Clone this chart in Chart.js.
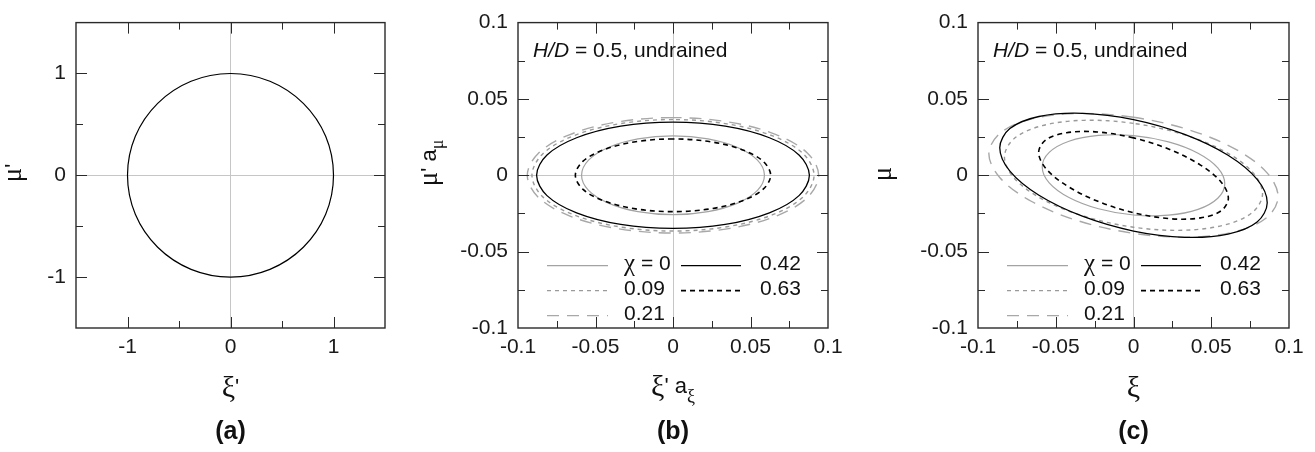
<!doctype html>
<html>

<head>
    <title>Ellipses</title>
    <script src="https://cdn.jsdelivr.net/npm/chart.js"></script>
    <style>
        body { margin: 0; background: #fff; }
        .panel { position: absolute; top: 0; }
    </style>
</head>

<body>
    <canvas id="chartA" class="panel" style="left:0" width="420" height="452"></canvas>
    <canvas id="chartB" class="panel" style="left:420px" width="440" height="452"></canvas>
    <canvas id="chartC" class="panel" style="left:860px" width="455" height="452"></canvas>

    <script>
        // (a) normalised yield surface: unit circle
        const aXi = [0, -0.383, -0.707, -0.924, -1, -0.924, -0.707, -0.383, 0, 0.383, 0.707, 0.924, 1, 0.924, 0.707, 0.383, 0];
        const aMu = [1, 0.924, 0.707, 0.383, 0, -0.383, -0.707, -0.924, -1, -0.924, -0.707, -0.383, 0, 0.383, 0.707, 0.924, 1];

        // legend values of chi
        const chiLabels = ['0', '0.09', '0.21', '0.42', '0.63'];

        // (b) scaled surfaces xi'·a_xi vs mu'·a_mu
        const bXi0 = [0, -0.0226, -0.0417, -0.0545, -0.059, -0.0545, -0.0417, -0.0226, 0, 0.0226, 0.0417, 0.0545, 0.059, 0.0545, 0.0417, 0.0226, 0];
        const bMu0 = [0.0258, 0.0238, 0.0182, 0.0099, 0, -0.0099, -0.0182, -0.0238, -0.0258, -0.0238, -0.0182, -0.0099, 0, 0.0099, 0.0182, 0.0238, 0.0258];
        const bXi09 = [0, -0.0348, -0.0643, -0.0841, -0.091, -0.0841, -0.0643, -0.0348, 0, 0.0348, 0.0643, 0.0841, 0.091, 0.0841, 0.0643, 0.0348, 0];
        const bMu09 = [0.0365, 0.0337, 0.0258, 0.0140, 0, -0.0140, -0.0258, -0.0337, -0.0365, -0.0337, -0.0258, -0.0140, 0, 0.0140, 0.0258, 0.0337, 0.0365];
        const bXi21 = [0, -0.0360, -0.0665, -0.0868, -0.094, -0.0868, -0.0665, -0.0360, 0, 0.0360, 0.0665, 0.0868, 0.094, 0.0868, 0.0665, 0.0360, 0];
        const bMu21 = [0.0378, 0.0349, 0.0267, 0.0145, 0, -0.0145, -0.0267, -0.0349, -0.0378, -0.0349, -0.0267, -0.0145, 0, 0.0145, 0.0267, 0.0349, 0.0378];
        const bXi42 = [0, -0.0337, -0.0622, -0.0813, -0.088, -0.0813, -0.0622, -0.0337, 0, 0.0337, 0.0622, 0.0813, 0.088, 0.0813, 0.0622, 0.0337, 0];
        const bMu42 = [0.0348, 0.0322, 0.0246, 0.0133, 0, -0.0133, -0.0246, -0.0322, -0.0348, -0.0322, -0.0246, -0.0133, 0, 0.0133, 0.0246, 0.0322, 0.0348];
        const bXi63 = [0, -0.0241, -0.0445, -0.0582, -0.063, -0.0582, -0.0445, -0.0241, 0, 0.0241, 0.0445, 0.0582, 0.063, 0.0582, 0.0445, 0.0241, 0];
        const bMu63 = [0.0238, 0.0220, 0.0168, 0.0091, 0, -0.0091, -0.0168, -0.0220, -0.0238, -0.0220, -0.0168, -0.0091, 0, 0.0091, 0.0168, 0.0220, 0.0238];

        // (c) surfaces in xi, mu (tilted)
        const cXi0 = [0, -0.0225, -0.0415, -0.0542, -0.0587, -0.0542, -0.0415, -0.0225, 0, 0.0225, 0.0415, 0.0542, 0.0587, 0.0542, 0.0415, 0.0225, 0];
        const cMu0 = [0.026, 0.0261, 0.0223, 0.0150, 0.0055, -0.0049, -0.0145, -0.0219, -0.026, -0.0261, -0.0223, -0.0150, -0.0055, 0.0049, 0.0145, 0.0219, 0.026];
        const cXi09 = [0, -0.0318, -0.0587, -0.0767, -0.083, -0.0767, -0.0587, -0.0318, 0, 0.0318, 0.0587, 0.0767, 0.083, 0.0767, 0.0587, 0.0318, 0];
        const cMu09 = [0.034, 0.0360, 0.0325, 0.0241, 0.012, -0.0019, -0.0156, -0.0268, -0.034, -0.0360, -0.0325, -0.0241, -0.012, 0.0019, 0.0156, 0.0268, 0.034];
        const cXi21 = [0, -0.0356, -0.0658, -0.0859, -0.093, -0.0859, -0.0658, -0.0356, 0, 0.0356, 0.0658, 0.0859, 0.093, 0.0859, 0.0658, 0.0356, 0];
        const cMu21 = [0.038, 0.0405, 0.0368, 0.0275, 0.014, -0.0016, -0.0170, -0.0298, -0.038, -0.0405, -0.0368, -0.0275, -0.014, 0.0016, 0.0170, 0.0298, 0.038];
        const cXi42 = [0, -0.0329, -0.0608, -0.0795, -0.086, -0.0795, -0.0608, -0.0329, 0, 0.0329, 0.0608, 0.0795, 0.086, 0.0795, 0.0608, 0.0329, 0];
        const cMu42 = [0.0365, 0.0406, 0.0385, 0.0306, 0.018, 0.0027, -0.0131, -0.0268, -0.0365, -0.0406, -0.0385, -0.0306, -0.018, -0.0027, 0.0131, 0.0268, 0.0365];
        const cXi63 = [0, -0.0233, -0.0431, -0.0564, -0.061, -0.0564, -0.0431, -0.0233, 0, 0.0233, 0.0431, 0.0564, 0.061, 0.0564, 0.0431, 0.0233, 0];
        const cMu63 = [0.0245, 0.0284, 0.0279, 0.0232, 0.015, 0.0045, -0.0067, -0.0169, -0.0245, -0.0284, -0.0279, -0.0232, -0.015, -0.0045, 0.0067, 0.0169, 0.0245];

        const SANS = '"Liberation Sans", Arial, sans-serif';
        const SERIF = '"Liberation Serif", "Times New Roman", serif';
        const tickFont = { family: SANS, size: 21 };

        // line look for chi = 0, 0.09, 0.21, 0.42, 0.63
        const looks = [
            { borderColor: '#a3a3a3', borderWidth: 1.2, borderDash: [], order: 2 },
            { borderColor: '#9a9a9a', borderWidth: 1.4, borderDash: [4, 4], order: 3 },
            { borderColor: '#a8a8a8', borderWidth: 1.4, borderDash: [12, 8], order: 4 },
            { borderColor: '#000000', borderWidth: 1.3, borderDash: [], order: 0 },
            { borderColor: '#000000', borderWidth: 1.6, borderDash: [5, 4], order: 1 }
        ];
        // legend slot (column, row) of each chi
        const slots = [[0, 0], [0, 1], [0, 2], [1, 0], [1, 1]];

        function pts(xs, ys) {
            return xs.map((x, i) => ({ x: x, y: ys[i] }));
        }

        // closed curve: repeat one neighbour on each end so the spline has no corner
        // where it closes, then hide those two extra pieces
        function loop(xs, ys) {
            const p = pts(xs, ys);
            return [p[p.length - 2]].concat(p, [p[1]]);
        }

        function closedLine(xs, ys, look) {
            const data = loop(xs, ys);
            const n = data.length;
            return Object.assign({
                data: data,
                showLine: true,
                pointRadius: 0,
                tension: 0.34,
                fill: false,
                segment: {
                    borderColor: c => (c.p0DataIndex === 0 || c.p1DataIndex === n - 1) ? 'rgba(0,0,0,0)' : undefined
                }
            }, look);
        }

        function series(xsList, ysList) {
            return xsList.map((xs, i) => Object.assign(closedLine(xs, ysList[i], looks[i]), { label: chiLabels[i] }));
        }

        function makeScales(lim, step, labelStep, yWidth) {
            const lbl = v => {
                const r = v / labelStep;
                return Math.abs(r - Math.round(r)) < 1e-6 ? String(+v.toFixed(3)) : '';
            };
            const grid = {
                drawTicks: false,
                lineWidth: 1,
                color: c => (c.tick && Math.abs(c.tick.value) < 1e-9) ? '#c6c6c6' : 'rgba(0,0,0,0)'
            };
            return {
                x: {
                    type: 'linear', min: -lim, max: lim, grid: grid, border: { display: false },
                    ticks: { stepSize: step, autoSkip: false, maxRotation: 0, padding: 7, color: '#1a1a1a', font: tickFont, callback: lbl },
                    afterFit: s => { s.height = 452 - 328; }
                },
                y: {
                    type: 'linear', min: -lim, max: lim, grid: grid, border: { display: false },
                    ticks: { stepSize: step, autoSkip: false, padding: 10, color: '#1a1a1a', font: tickFont, callback: lbl },
                    afterFit: s => { s.width = yWidth; }
                }
            };
        }

        function richWidth(ctx, parts) {
            let w = 0;
            parts.forEach(p => { ctx.font = p.font; w += ctx.measureText(p.text).width; });
            return w;
        }

        function drawRich(ctx, parts, x, y, align, angle) {
            ctx.save();
            ctx.translate(x, y);
            if (angle) ctx.rotate(angle);
            let cx = align === 'center' ? -richWidth(ctx, parts) / 2 : 0;
            ctx.textAlign = 'left';
            ctx.textBaseline = 'alphabetic';
            ctx.fillStyle = '#111';
            parts.forEach(p => {
                ctx.font = p.font;
                ctx.fillText(p.text, cx, p.dy || 0);
                cx += ctx.measureText(p.text).width;
            });
            ctx.restore();
        }

        // frame, inward ticks on four sides, titles, note and legend
        const decor = {
            id: 'decor',
            afterDraw(chart, args, opts) {
                const ctx = chart.ctx;
                const a = chart.chartArea;
                ctx.save();
                ctx.strokeStyle = '#2a2a2a';
                ctx.lineWidth = 1;
                ['x', 'y'].forEach(id => {
                    const s = chart.scales[id];
                    s.ticks.forEach(t => {
                        if (t.value <= s.min + 1e-9 || t.value >= s.max - 1e-9) return;
                        const len = t.label ? 11 : 7;
                        const p = Math.round(s.getPixelForValue(t.value)) + 0.5;
                        ctx.beginPath();
                        if (id === 'x') {
                            ctx.moveTo(p, a.bottom); ctx.lineTo(p, a.bottom - len);
                            ctx.moveTo(p, a.top); ctx.lineTo(p, a.top + len);
                        } else {
                            ctx.moveTo(a.left, p); ctx.lineTo(a.left + len, p);
                            ctx.moveTo(a.right, p); ctx.lineTo(a.right - len, p);
                        }
                        ctx.stroke();
                    });
                });
                ctx.lineWidth = 1.4;
                ctx.strokeRect(a.left, a.top, a.right - a.left, a.bottom - a.top);

                (opts.texts || []).forEach(t => drawRich(ctx, t.parts, t.x, t.y, t.align, t.angle));

                if (opts.note) drawRich(ctx, opts.note, a.left + 15, a.top + 34.5, 'left');

                if (opts.legend) {
                    const colLine = [[29, 90], [163, 223]];
                    const colText = [106, 242];
                    const rowBase = [247, 272, 297];
                    chart.data.datasets.forEach((ds, i) => {
                        const [c, r] = slots[i];
                        const by = a.top + rowBase[r];
                        ctx.save();
                        ctx.strokeStyle = ds.borderColor;
                        ctx.lineWidth = ds.borderWidth;
                        ctx.setLineDash(ds.borderDash || []);
                        ctx.beginPath();
                        ctx.moveTo(a.left + colLine[c][0], by - 4);
                        ctx.lineTo(a.left + colLine[c][1], by - 4);
                        ctx.stroke();
                        ctx.restore();
                        const parts = i === 0
                            ? [{ text: 'χ', font: '25px ' + SERIF, dy: 1 }, { text: ' = ' + ds.label, font: '21px ' + SANS }]
                            : [{ text: ds.label, font: '21px ' + SANS }];
                        drawRich(ctx, parts, a.left + colText[c], by, 'left');
                    });
                }
                ctx.restore();
            }
        };

        const note = [
            { text: 'H/D', font: 'italic 21px ' + SANS },
            { text: ' = 0.5, undrained', font: '21px ' + SANS }
        ];

        function baseOptions(lim, step, labelStep, yWidth, padRight, decorOpts) {
            return {
                responsive: false,
                animation: false,
                events: [],
                layout: { padding: { top: 19, right: padRight, left: 0, bottom: 0 } },
                scales: makeScales(lim, step, labelStep, yWidth),
                plugins: {
                    legend: { display: false },
                    tooltip: { enabled: false },
                    decor: decorOpts
                }
            };
        }

        const UP = -Math.PI / 2;
        const greek = '30px ' + SERIF;
        const muFont = '27px ' + SERIF;
        const prime = '22px ' + SANS;
        const sub = '18px ' + SERIF;

        new Chart(document.getElementById('chartA'), {
            type: 'scatter',
            data: {
                datasets: [Object.assign(closedLine(aXi, aMu, { borderColor: '#000', borderWidth: 1.2 }), { label: 'circle' })]
            },
            options: baseOptions(1.5, 0.5, 1, 76, 35, {
                texts: [
                    { parts: [{ text: 'ξ', font: greek }, { text: "'", font: prime, dy: -3 }], x: 230.5, y: 397, align: 'center' },
                    { parts: [{ text: 'μ', font: muFont }, { text: "'", font: prime, dy: -1 }], x: 21, y: 173, align: 'center', angle: UP },
                    { parts: [{ text: '(a)', font: 'bold 25px ' + SANS }], x: 230.5, y: 439, align: 'center' }
                ]
            }),
            plugins: [decor]
        });

        new Chart(document.getElementById('chartB'), {
            type: 'scatter',
            data: { datasets: series([bXi0, bXi09, bXi21, bXi42, bXi63], [bMu0, bMu09, bMu21, bMu42, bMu63]) },
            options: baseOptions(0.1, 0.025, 0.05, 98, 32, {
                note: note,
                legend: true,
                texts: [
                    { parts: [{ text: 'ξ', font: greek }, { text: "' a", font: prime, dy: -3 }, { text: 'ξ', font: sub, dy: 6 }], x: 253, y: 396, align: 'center' },
                    { parts: [{ text: 'μ', font: muFont }, { text: "' a", font: prime, dy: -1 }, { text: 'μ', font: sub, dy: 6 }], x: 17, y: 163, align: 'center', angle: UP },
                    { parts: [{ text: '(b)', font: 'bold 25px ' + SANS }], x: 253, y: 439, align: 'center' }
                ]
            }),
            plugins: [decor]
        });

        new Chart(document.getElementById('chartC'), {
            type: 'scatter',
            data: { datasets: series([cXi0, cXi09, cXi21, cXi42, cXi63], [cMu0, cMu09, cMu21, cMu42, cMu63]) },
            options: baseOptions(0.1, 0.025, 0.05, 118, 26, {
                note: note,
                legend: true,
                texts: [
                    { parts: [{ text: 'ξ', font: greek }], x: 273.5, y: 397, align: 'center' },
                    { parts: [{ text: 'μ', font: muFont }], x: 31, y: 174, align: 'center', angle: UP },
                    { parts: [{ text: '(c)', font: 'bold 25px ' + SANS }], x: 273.5, y: 439, align: 'center' }
                ]
            }),
            plugins: [decor]
        });
    </script>
</body>

</html>
